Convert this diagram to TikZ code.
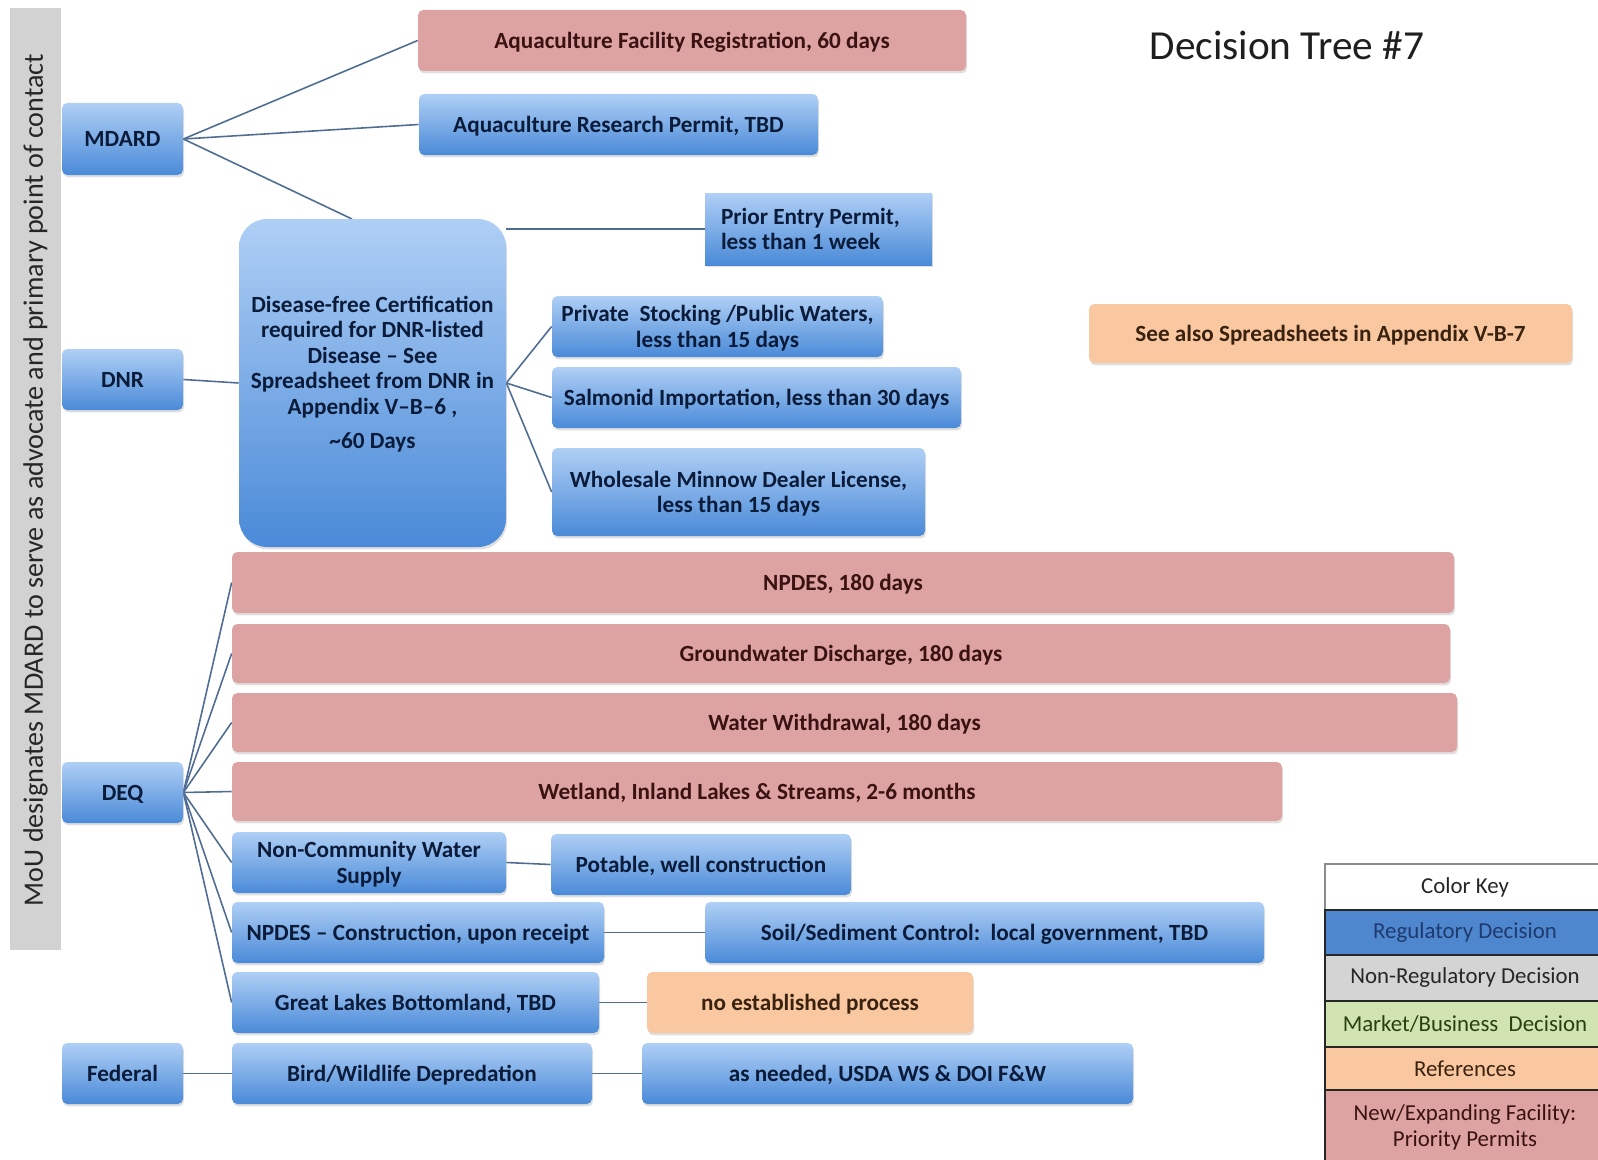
\documentclass[tikz,border=0pt]{standalone}
\usepackage{fontspec}
\setmainfont{Carlito}
\usetikzlibrary{shadows,backgrounds}

\definecolor{bluetop}{HTML}{AFCFF5}
\definecolor{bluebot}{HTML}{4A8AD8}
\definecolor{navytext}{HTML}{0B1B3A}
\definecolor{redfill}{HTML}{DDA3A2}
\definecolor{redtext}{HTML}{3B1212}
\definecolor{reffill}{HTML}{F9C8A0}
\definecolor{reftext}{HTML}{3A2210}
\definecolor{linkcol}{HTML}{4F6D93}
\definecolor{barfill}{HTML}{D2D2D2}
\definecolor{keyblue}{HTML}{4F87CF}
\definecolor{keybluetext}{HTML}{1E3A6E}
\definecolor{keygray}{HTML}{D4D4D4}
\definecolor{keygreen}{HTML}{D0E3B0}
\definecolor{keygreentext}{HTML}{284010}

\tikzset{
  sz/.style 2 args={minimum width=#1*0.02cm, minimum height=#2*0.02cm},
  box/.style={rounded corners=3pt, inner sep=2pt, align=center, text depth=0pt,
    font=\bfseries\fontsize{13.2}{14.5}\selectfont,
    drop shadow={opacity=0.25, shadow xshift=0.6pt, shadow yshift=-1.4pt}},
  oneline/.style={text height=0.9em, text depth=0pt},
  bluebox/.style={box, top color=bluetop, bottom color=bluebot, text=navytext},
  redbox/.style={box, oneline, fill=redfill, text=redtext},
  refbox/.style={box, oneline, fill=reffill, text=reftext},
  link/.style={draw=linkcol, line width=0.9pt},
  keycell/.style={draw=black!85, line width=1.2pt, sz={280}{#1},
    font=\fontsize{13}{15}\selectfont, align=center}
}

\begin{document}
\begin{tikzpicture}[x=0.02cm, y=-0.02cm]
  \useasboundingbox (0,0) rectangle (1598,1159);

  % side bar
  \fill[barfill] (10,8) rectangle (61,950);
  \node[rotate=90, text=black!85, font=\fontsize{16}{18}\selectfont] (mou) at (35.5,480)
    {MoU designates MDARD to serve as advocate and primary point of contact};

  \node[font=\fontsize{23.5}{26}\selectfont, text=black!88] (title) at (1287,45) {Decision Tree \#7};

  % agencies
  \node[bluebox, oneline, sz={121}{72}] (mdard) at (122.5,139) {MDARD};
  \node[bluebox, oneline, sz={121}{61}] (dnr) at (122.5,379.5) {DNR};
  \node[bluebox, oneline, sz={121}{61}] (deq) at (122.5,792.5) {DEQ};
  \node[bluebox, oneline, sz={121}{61}] (federal) at (122.5,1073.5) {Federal};

  % MDARD
  \node[redbox, sz={548}{61}] (facreg) at (692,40.5) {Aquaculture Facility Registration, 60 days};
  \node[bluebox, oneline, sz={399}{61}] (research) at (618.5,124.5) {Aquaculture Research Permit, TBD};

  % DNR
  \node[bluebox, sz={267}{328}, rounded corners=16pt] (dnrcert) at (372.5,383) {};
  \node[align=center, text=navytext, font=\bfseries\fontsize{13.2}{14.5}\selectfont] (certtext) at (372.5,374)
    {Disease-free Certification\\ required for DNR-listed\\ Disease -- See\\ Spreadsheet from DNR in\\ Appendix V--B--6 ,\\[5pt] \textasciitilde60 Days};
  \coordinate (certtop) at (352,219);
  \node[bluebox, sz={227}{72}, rounded corners=0pt, align=flush left, text depth=, inner xsep=0.32cm, text width=3.9cm] (prior) at (818.5,229) {Prior Entry Permit,\\ less than 1 week};
  \node[bluebox, sz={331}{61}] (stocking) at (717.5,326.5) {Private\ \ Stocking /Public Waters,\\ less than 15 days};
  \node[bluebox, oneline, sz={409}{61}] (salmonid) at (756.5,397.5) {Salmonid Importation, less than 30 days};
  \node[bluebox, sz={373}{88}] (minnow) at (738.5,492) {Wholesale Minnow Dealer License,\\ less than 15 days};
  \node[refbox, sz={483}{59}] (seealso) at (1330.5,333.5) {See also Spreadsheets in Appendix V-B-7};

  % DEQ
  \node[redbox, sz={1222}{61}] (npdes) at (843,582.5) {NPDES, 180 days};
  \node[redbox, sz={1218}{59}] (ground) at (841,653.5) {Groundwater Discharge, 180 days};
  \node[redbox, sz={1225}{59}] (withdraw) at (844.5,722.5) {Water Withdrawal, 180 days};
  \node[redbox, sz={1050}{59}] (wetland) at (757,791.5) {Wetland, Inland Lakes \& Streams, 2-6 months};
  \node[bluebox, sz={274}{61}] (noncomm) at (369,862.5) {Non-Community Water\\ Supply};
  \node[bluebox, oneline, sz={300}{61}] (potable) at (701,864.5) {Potable, well construction};
  \node[bluebox, oneline, sz={372}{61}] (npdesc) at (418,932.5) {NPDES -- Construction, upon receipt};
  \node[bluebox, oneline, sz={559}{61}] (soil) at (984.5,932.5) {Soil/Sediment Control:\ \ local government, TBD};
  \node[bluebox, oneline, sz={367}{61}] (lakes) at (415.5,1002.5) {Great Lakes Bottomland, TBD};
  \node[refbox, sz={326}{61}] (noproc) at (810,1002.5) {no established process};

  % Federal
  \node[bluebox, oneline, sz={360}{61}] (bird) at (412,1073.5) {Bird/Wildlife Depredation};
  \node[bluebox, oneline, sz={491}{61}] (asneeded) at (887.5,1073.5) {as needed, USDA WS \& DOI F\&W};

  \begin{scope}[on background layer]
    \draw[link] (mdard.east) -- (facreg.west);
    \draw[link] (mdard.east) -- (research.west);
    \draw[link] (mdard.east) -- (certtop);
    \draw[link] (dnr.east) -- (dnrcert.west);
    \draw[link] (dnrcert.east |- prior.west) -- (prior.west);
    \foreach \t in {stocking,salmonid,minnow}
      \draw[link] (dnrcert.east) -- (\t.west);
    \foreach \t in {npdes,ground,withdraw,wetland,noncomm,npdesc,lakes}
      \draw[link] (deq.east) -- (\t.west);
    \draw[link] (noncomm.east) -- (potable.west);
    \draw[link] (npdesc.east) -- (soil.west);
    \draw[link] (lakes.east) -- (noproc.west);
    \draw[link] (federal.east) -- (bird.west);
    \draw[link] (bird.east) -- (asneeded.west);
  \end{scope}

  % color key
  \begin{scope}
    \clip (0,0) rectangle (1598,1159);
    \node[keycell=46, fill=white, draw=black!45, text=black!85] (keyhead) at (1465,887) {Color Key};
    \node[keycell=45, fill=keyblue, text=keybluetext] (keyreg) at (1465,932.5) {Regulatory Decision};
    \node[keycell=46, fill=keygray, text=black!85] (keynonreg) at (1465,978) {Non-Regulatory Decision};
    \node[keycell=46, fill=keygreen, text=keygreentext] (keymarket) at (1465,1024) {Market/Business\ \ Decision};
    \node[keycell=43, fill=reffill, text=reftext] (keyref) at (1465,1068.5) {References};
    \node[keycell=75, fill=redfill, text=redtext] (keynew) at (1465,1127.5) {New/Expanding Facility:\\ Priority Permits};
  \end{scope}
\end{tikzpicture}
\end{document}
